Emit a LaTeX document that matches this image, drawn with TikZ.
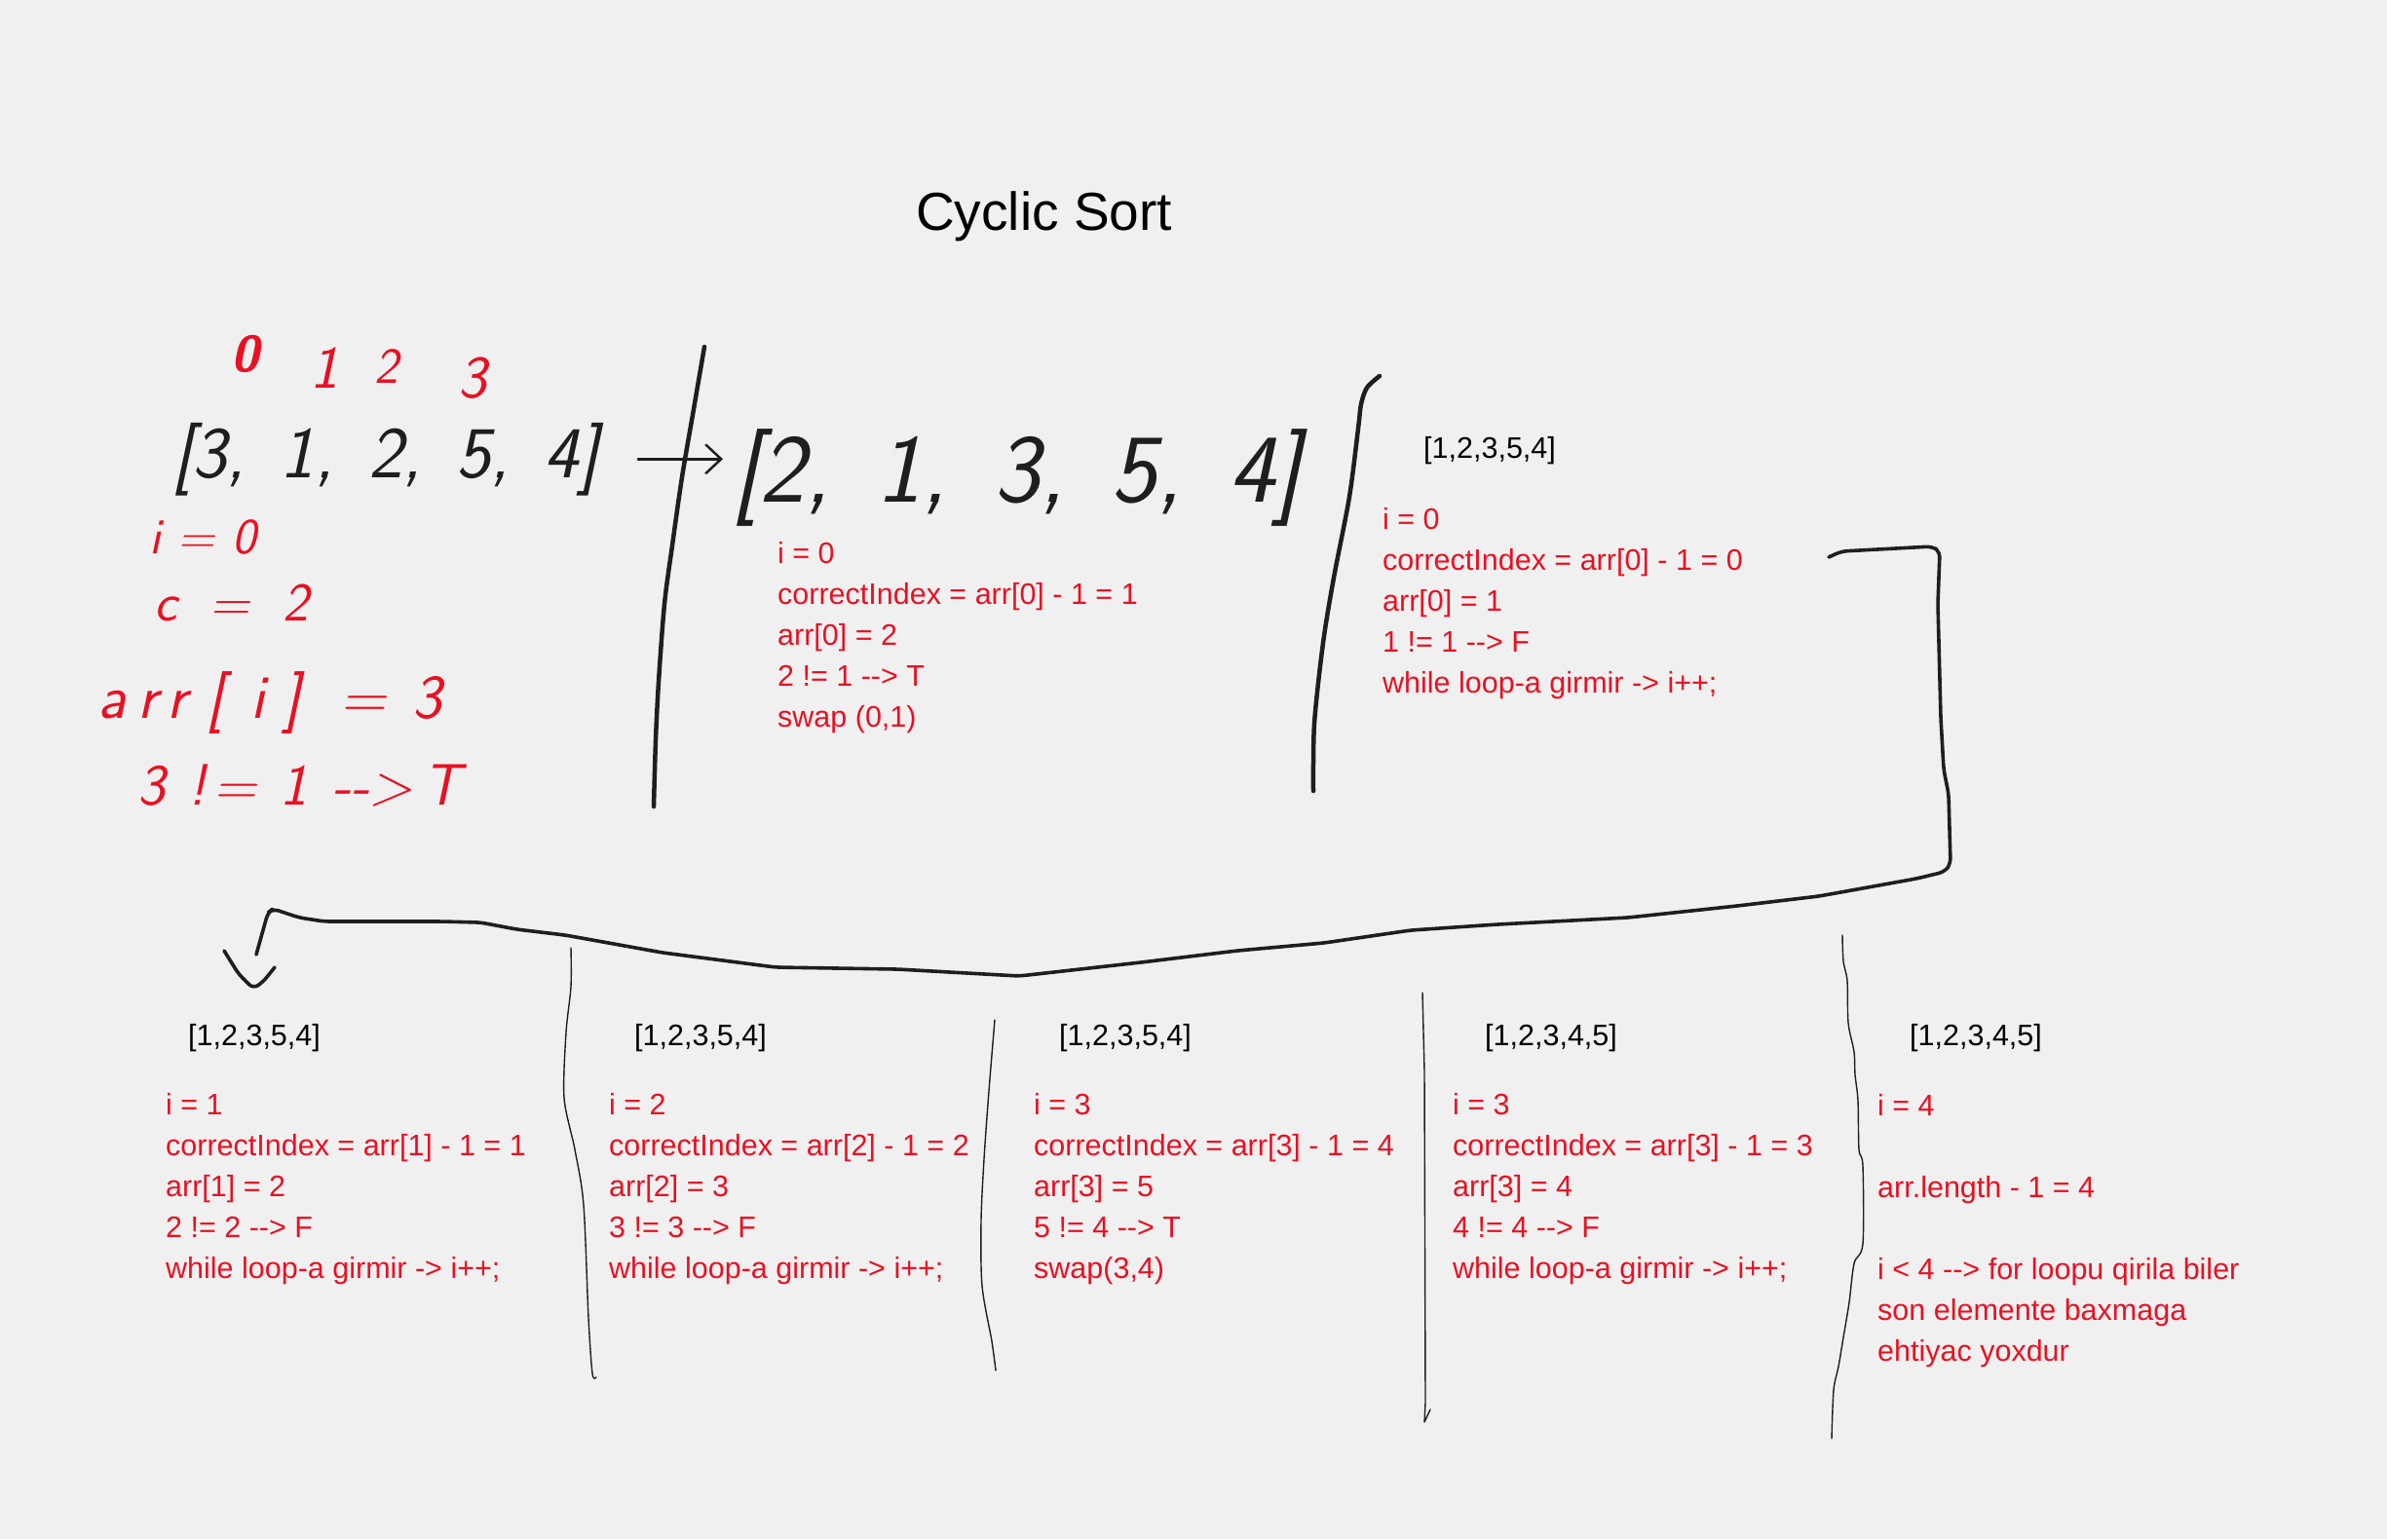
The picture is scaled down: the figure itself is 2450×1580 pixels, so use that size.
\documentclass[tikz,border=0pt]{standalone}
\usepackage{fontspec}
\setmainfont{Liberation Sans}
\usetikzlibrary{arrows.meta}
\definecolor{bg}{RGB}{240,240,240}
\definecolor{wred}{RGB}{232,17,35}
\definecolor{ink}{RGB}{30,30,30}
\newcommand{\hs}[1]{\hspace{#1pt}}
\begin{document}
\begin{tikzpicture}[x=1pt,y=-1pt,
  typed/.style={font=\fontsize{30.5}{42}\selectfont, inner sep=0pt, align=left, anchor=base west},
  redtxt/.style={typed, text=wred},
  arrlabel/.style={typed, text=black},
  hand/.style={inner sep=0pt, anchor=base west, font=\sffamily\slshape\fontsize{#1}{#1}\selectfont},
  thickline/.style={draw=ink, line width=4.5pt, line cap=round, line join=round},
  thinline/.style={draw=ink, line width=1.4pt, line cap=round, line join=round},
  conn/.style={draw=ink, line width=3.6pt, line cap=round, line join=round, rounded corners=6pt}]
\fill[bg] (0,0) rectangle (2450,1580);
\useasboundingbox (0,0) rectangle (2450,1580);

% title
\node[anchor=base west, inner sep=0pt, font=\fontsize{55}{66}\selectfont] (title) at (940,236) {Cyclic Sort};

% handwritten part
\node[hand=52, text=wred] (ix0) at (237,381) {\bfseries 0};
\node[hand=62, text=wred] (ix1) at (318,398) {1};
\node[hand=52, text=wred] (ix2) at (384,393) {2};
\node[hand=62, text=wred] (ix3) at (470,408) {3};
\node[hand=75, text=ink] (arr1) at (177,490) {[3,\hs{12} 1,\hs{12} 2,\hs{12} 5,\hs{12} 4]};
\node[hand=100, text=ink] (arr2) at (752,515) {[2,\hs{16} 1,\hs{16} 3,\hs{16} 5,\hs{16} 4]};
\draw[ink, line width=2.5pt, line cap=round, -{Straight Barb[length=16pt,width=30pt,line width=2.5pt]}, shorten <=40pt, shorten >=10pt] (arr1.east) -- (arr1.east -| arr2.west);

\node[hand=52, text=wred] (hi) at (153,568) {i\hs{18}=\hs{18}0};
\node[hand=56, text=wred] (hc) at (158,637) {c\hs{34}=\hs{34}2};
\node[hand=64, text=wred] (ha) at (100,737) {a\hs{12}r\hs{10}r\hs{20}[\hs{28}i\hs{20}]\hs{40}=\hs{28}3};
\node[hand=60, text=wred] (hn) at (141,826) {3\hs{24}!\hs{8}=\hs{24}1\hs{26}-{}->\hs{10}T};

% thick vertical strokes
\draw[thickline] plot[smooth] coordinates {(723,356) (712,420) (700,490) (690,560) (682,620) (676,700) (673,760) (671,828)};
\draw[thickline] plot[smooth] coordinates {(1416,386) (1403,398) (1397,415) (1394,440) (1385,510) (1369,593) (1358,660) (1349,743) (1348,812)};

% top texts (anchor = baseline of last line)
\node[redtxt] (p0) at (798,746) {i = 0\\correctIndex = arr[0] - 1 = 1\\arr[0] = 2\\2 != 1 -{}-{}> T\\swap (0,1)};
\node[arrlabel] (l1) at (1461,470) {[1,2,3,5,4]};
\node[redtxt] (p1) at (1419,711) {i = 0\\correctIndex = arr[0] - 1 = 0\\arr[0] = 1\\1 != 1 -{}-{}> F\\while loop-a girmir -> i++;};

% bottom texts
\node[arrlabel] (lb1) at (193,1073) {[1,2,3,5,4]};
\node[redtxt] (b1) at (170,1312) {i = 1\\correctIndex = arr[1] - 1 = 1\\arr[1] = 2\\2 != 2 -{}-{}> F\\while loop-a girmir -> i++;};
\node[arrlabel] (lb2) at (651,1073) {[1,2,3,5,4]};
\node[redtxt] (b2) at (625,1312) {i = 2\\correctIndex = arr[2] - 1 = 2\\arr[2] = 3\\3 != 3 -{}-{}> F\\while loop-a girmir -> i++;};
\node[arrlabel] (lb3) at (1087,1073) {[1,2,3,5,4]};
\node[redtxt] (b3) at (1061,1312) {i = 3\\correctIndex = arr[3] - 1 = 4\\arr[3] = 5\\5 != 4 -{}-{}> T\\swap(3,4)};
\node[arrlabel] (lb4) at (1524,1073) {[1,2,3,4,5]};
\node[redtxt] (b4) at (1491,1312) {i = 3\\correctIndex = arr[3] - 1 = 3\\arr[3] = 4\\4 != 4 -{}-{}> F\\while loop-a girmir -> i++;};
\node[arrlabel] (lb5) at (1960,1073) {[1,2,3,4,5]};
\node[redtxt] (b5) at (1927,1397) {i = 4\\[42pt]arr.length - 1 = 4\\[42pt]i < 4 -{}-{}> for loopu qirila biler\\son elemente baxmaga\\ehtiyac yoxdur};

% thin separators
\draw[thinline] plot[smooth] coordinates {(586,973) (586,1013) (581,1060) (579,1127) (590,1180) (599,1237) (604,1353) (608,1410) (612,1414)};
\draw[thinline] plot[smooth] coordinates {(1021,1047) (1015,1120) (1010,1190) (1007,1253) (1008,1320) (1018,1377) (1022,1407)};
\draw[thinline] plot coordinates {(1460,1019) (1462,1100) (1463,1440) (1462,1460) (1468,1447)};
\draw[thinline] plot[smooth] coordinates {(1891,960) (1892,987) (1896,1007) (1897,1050) (1903,1080) (1904,1103) (1907,1130) (1908,1180) (1912,1197) (1912,1277) (1903,1297) (1898,1337) (1892,1373) (1887,1403) (1882,1427) (1880,1477)};

% big connector
\coordinate (cstart) at (1877,572);
\coordinate (cend) at (263,980);
\coordinate (tip) at (260,1015);
\draw[conn] (cstart) -- (1890,566) -- (1983,561) -- (1991,566) -- (1989,620) -- (1992,737) -- (1995,790) -- (2000,815) -- (2002,887) -- (1996,895) -- (1967,902) -- (1867,920) -- (1783,930) -- (1671,942) -- (1537,949) -- (1448,955) -- (1359,968) -- (1270,976) -- (1171,988) -- (1046,1002) -- (921,995) -- (796,993) -- (680,978) -- (580,960) -- (530,954) -- (493,947) -- (453,946) -- (333,946) -- (307,942) -- (280,933) -- (275,937) -- (cend);
\draw[conn] (230,976) -- (245,1000) -- (tip) -- (270,1008) -- (282,993);
\end{tikzpicture}
\end{document}
